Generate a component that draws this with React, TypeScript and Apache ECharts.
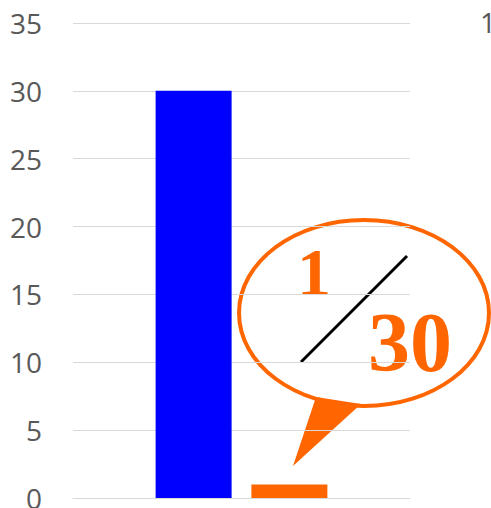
import React, { useEffect, useRef } from "react";
import * as echarts from "echarts";

const categories = [""];
const seriesA = [30];
const seriesB = [1];
const yTicks = { min: 0, max: 35, interval: 5 };
const fracNum = "1";
const fracDen = "30";
const cornerText = "1";

export default function App() {
  const ref = useRef<HTMLDivElement>(null);
  useEffect(() => {
    if (!ref.current) return;
    const chart = echarts.init(ref.current, null, { renderer: "svg" });
    chart.setOption({
      animation: false,
      grid: { left: 73, right: 81, top: 23, bottom: 10, outerBoundsMode: "none", containLabel: false },
      xAxis: {
        type: "category",
        data: categories,
        axisLine: { show: true, lineStyle: { color: "#d9d9d9", width: 1 } },
        axisTick: { show: false },
        axisLabel: { show: false },
      },
      yAxis: {
        type: "value",
        min: yTicks.min,
        max: yTicks.max,
        interval: yTicks.interval,
        axisLine: { show: false },
        axisTick: { show: false },
        splitLine: { lineStyle: { color: "#d9d9d9", width: 1 } },
        axisLabel: {
          color: "#595959",
          fontSize: 28,
          fontFamily: "Open Sans",
          margin: 31,
        },
      },
      series: [
        {
          type: "bar",
          data: seriesA,
          barWidth: 76,
          barGap: "26%",
          itemStyle: { color: "#0000ff" },
        },
        {
          type: "bar",
          data: seriesB,
          barWidth: 76,
          itemStyle: { color: "#ff6600" },
        },
      ],
      graphic: [
        {
          type: "text",
          x: 480,
          y: 8,
          style: {
            text: cornerText,
            fontSize: 28,
            fontFamily: "Open Sans",
            fill: "#595959",
          },
        },
        {
          type: "ellipse",
          shape: { cx: 364, cy: 313, rx: 125, ry: 93 },
          style: { fill: "#fff", stroke: "#ff6600", lineWidth: 4 },
        },
        {
          type: "polygon",
          shape: {
            points: [
              [316, 397],
              [361, 404],
              [293, 466],
            ],
          },
          style: { fill: "#ff6600" },
        },
        {
          type: "line",
          shape: { x1: 301, y1: 362, x2: 407, y2: 256 },
          style: { stroke: "#000", lineWidth: 3 },
        },
        {
          type: "text",
          x: 314,
          y: 272,
          style: {
            text: fracNum,
            fontSize: 68,
            fontWeight: "bold",
            fontFamily: "Liberation Serif",
            fill: "#ff6600",
            align: "center",
            verticalAlign: "middle",
          },
        },
        {
          type: "text",
          x: 410,
          y: 342,
          style: {
            text: fracDen,
            fontSize: 84,
            fontWeight: "bold",
            fontFamily: "Liberation Serif",
            fill: "#ff6600",
            align: "center",
            verticalAlign: "middle",
          },
        },
      ],
    });
    return () => chart.dispose();
  }, []);
  return <div ref={ref} style={{ width: 491, height: 508, position: "absolute", left: 0, top: 0 }} />;
}
